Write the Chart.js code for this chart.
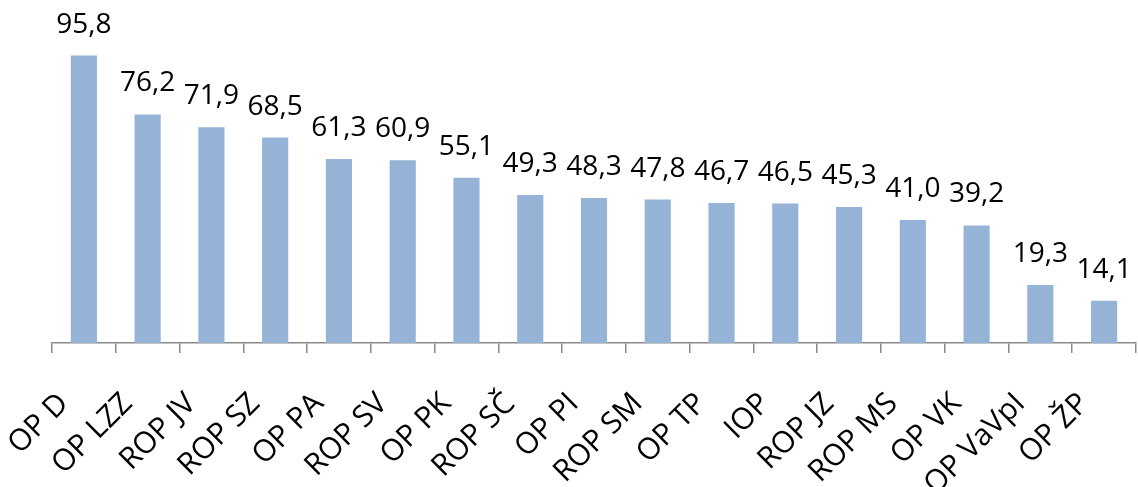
<!DOCTYPE html>
<html>
<head>
<meta charset="utf-8">
<script src="https://cdn.jsdelivr.net/npm/chart.js@4"></script>
<style>
  html, body { margin: 0; padding: 0; background: #fff; }
  #wrap { width: 1138px; height: 487px; }
</style>
</head>
<body>
<div id="wrap"><canvas id="chart" width="1138" height="487"></canvas></div>
<script>
// operational programmes, sorted by value
const programmes = ['OP D', 'OP LZZ', 'ROP JV', 'ROP SZ', 'OP PA', 'ROP SV', 'OP PK', 'ROP SČ', 'OP PI',
  'ROP SM', 'OP TP', 'IOP', 'ROP JZ', 'ROP MS', 'OP VK', 'OP VaVpI', 'OP ŽP'];
const values = [95.8, 76.2, 71.9, 68.5, 61.3, 60.9, 55.1, 49.3, 48.3, 47.8, 46.7, 46.5, 45.3, 41.0, 39.2, 19.3, 14.1];
const yMax = 100;

const fontFamily = '"Open Sans", sans-serif';

// value labels above bars, decimal comma
const valueLabels = {
  id: 'valueLabels',
  afterDatasetsDraw(chart) {
    const ctx = chart.ctx;
    const meta = chart.getDatasetMeta(0);
    ctx.save();
    ctx.font = '28px ' + fontFamily;
    ctx.fillStyle = '#000';
    ctx.textAlign = 'center';
    ctx.textBaseline = 'alphabetic';
    meta.data.forEach((bar, i) => {
      ctx.fillText(values[i].toFixed(1).replace('.', ','), bar.x, bar.y - 23);
    });
    ctx.restore();
  }
};

new Chart(document.getElementById('chart'), {
  type: 'bar',
  data: {
    labels: programmes,
    datasets: [{
      data: values,
      backgroundColor: '#95b3d7',
      barPercentage: 0.41,
      categoryPercentage: 1
    }]
  },
  options: {
    responsive: false,
    animation: false,
    layout: { padding: { left: 52, right: 2, top: 43, bottom: 0 } },
    plugins: { legend: { display: false }, tooltip: { enabled: false } },
    scales: {
      y: { display: false, min: 0, max: yMax },
      x: {
        grid: { drawOnChartArea: false, drawTicks: true, tickLength: 10, color: '#898989', lineWidth: 1.5 },
        border: { color: '#898989', width: 1.5 },
        ticks: {
          autoSkip: false,
          maxRotation: 45,
          minRotation: 45,
          padding: 33,
          labelOffset: -20,
          color: '#000',
          font: { family: fontFamily, size: 30 }
        },
        afterFit(scale) {
          scale.paddingLeft = 0;
          scale.paddingRight = 0;
          scale.height = 144;
        }
      }
    }
  },
  plugins: [valueLabels]
});
</script>
</body>
</html>
